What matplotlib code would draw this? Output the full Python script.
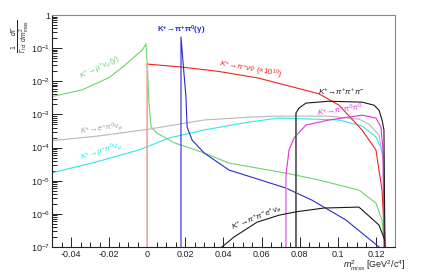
import matplotlib
matplotlib.use("Agg")
import matplotlib.pyplot as plt
from matplotlib.ticker import MultipleLocator, LogLocator, NullFormatter

plt.rcParams['font.family'] = ['Liberation Sans', 'DejaVu Sans']
plt.rcParams['mathtext.fontset'] = 'custom'
plt.rcParams['mathtext.rm'] = 'Liberation Sans'
plt.rcParams['mathtext.it'] = 'Liberation Sans:italic'
plt.rcParams['mathtext.bf'] = 'Liberation Sans:bold'

# ---- data (m2_miss in GeV^2/c^4, dGamma/dm2 normalised) ----
mu_nu_x = [-0.0505, -0.0342, -0.020, -0.0122, -0.0069, -0.0027, -0.0007, 0.0, 0.0009, 0.0020,
           0.0051, 0.0140, 0.0298, 0.0429, 0.0728, 0.0901, 0.1111, 0.1200, 0.1232, 0.1247]
mu_nu_y = [3.4e-3, 5.5e-3, 1.3e-2, 2.9e-2, 5.4e-2, 8.7e-2, 0.133, 3.5e-2, 2.2e-3, 4.2e-4,
           2.75e-4, 1.4e-4, 6.9e-5, 3.4e-5, 1.7e-5, 1.05e-5, 5.2e-6, 2.1e-6, 6.5e-7, 1e-7]

pinunu_x = [0.0, 0.0, 0.0177, 0.0371, 0.0581, 0.0744, 0.0901, 0.1006, 0.1127, 0.1200, 0.1232, 0.1247]
pinunu_y = [1e-7, 3.3e-2, 2.7e-2, 2.0e-2, 1.26e-2, 7.2e-3, 4.2e-3, 1.9e-3, 3.4e-4, 8.5e-5, 5.2e-6, 1e-7]

pipi0_x = [0.0177, 0.0177, 0.0188, 0.0203, 0.0209, 0.0235, 0.0298, 0.0429, 0.0728, 0.0864, 0.1043, 0.1216]
pipi0_y = [1e-7, 0.217, 3.6e-2, 3.4e-3, 4.2e-4, 1.7e-4, 6.9e-5, 2.1e-5, 6.0e-6, 2.6e-6, 6.5e-7, 1e-7]

epi0nu_x = [-0.0505, -0.0253, 0.0009, 0.0298, 0.0534, 0.0691, 0.0954, 0.1111, 0.1163, 0.1216, 0.1237, 0.1247]
epi0nu_y = [1.6e-4, 2.25e-4, 3.6e-4, 6.8e-4, 8.3e-4, 8.9e-4, 8.9e-4, 7.2e-4, 5.1e-4, 2.4e-4, 4.2e-5, 1e-7]

mupi0nu_x = [-0.0505, -0.0253, -0.0043, 0.0114, 0.0298, 0.0534, 0.0691, 0.1006, 0.1127, 0.1200, 0.1232, 0.1242, 0.1247]
mupi0nu_y = [1.7e-5, 3.9e-5, 8.5e-5, 1.95e-4, 3.4e-4, 5.9e-4, 7.8e-4, 6.8e-4, 4.5e-4, 2.1e-4, 8.5e-5, 4.8e-5, 1e-7]

pipi0pi0_x = [0.0728, 0.0728, 0.0744, 0.0770, 0.0833, 0.0954, 0.1127, 0.1200, 0.1226, 0.1237, 0.1242]
pipi0pi0_y = [1e-7, 1.5e-5, 8.5e-5, 1.95e-4, 4.8e-4, 6.8e-4, 9.5e-4, 7.8e-4, 4.2e-4, 8.5e-5, 1e-7]

pipipi_x = [0.0780, 0.0780, 0.0796, 0.0833, 0.0954, 0.1127, 0.1190, 0.1216, 0.1232, 0.1242, 0.1247]
pipipi_y = [1e-7, 1.1e-3, 1.55e-3, 2.2e-3, 2.5e-3, 2.35e-3, 1.9e-3, 1.35e-3, 6.8e-4, 3.4e-4, 1e-7]

ke4_x = [0.0392, 0.0455, 0.0576, 0.0691, 0.0780, 0.0927, 0.1111, 0.1216, 0.1247]
ke4_y = [1e-7, 2.0e-7, 5.6e-7, 9.1e-7, 1.15e-6, 1.5e-6, 1.6e-6, 4.6e-7, 1.6e-7]

x_ticks = [-0.04, -0.02, 0.0, 0.02, 0.04, 0.06, 0.08, 0.1, 0.12]
x_tick_labels = ['-0.04', '-0.02', '0', '0.02', '0.04', '0.06', '0.08', '0.1', '0.12']
y_ticks = [1e-7, 1e-6, 1e-5, 1e-4, 1e-3, 1e-2, 1e-1, 1]
y_tick_labels = [r'$10^{-7}$', r'$10^{-6}$', r'$10^{-5}$', r'$10^{-4}$', r'$10^{-3}$',
                 r'$10^{-2}$', r'$10^{-1}$', '1']

c_green = '#6cd46c'
c_red = '#e8281e'
c_blue = '#2a2ad8'
c_gray = '#b8b8b8'
c_cyan = '#30e8e8'
c_mag = '#e030e0'
c_black = '#1a1a1a'

fig = plt.figure(figsize=(4.24, 2.77), dpi=100)
ax = fig.add_axes([0.1226, 0.1083, 0.809, 0.8375])
lw = 0.8
ax.plot(mu_nu_x, mu_nu_y, color=c_green, lw=lw)
ax.plot(epi0nu_x, epi0nu_y, color=c_gray, lw=lw)
ax.plot(mupi0nu_x, mupi0nu_y, color=c_cyan, lw=lw)
ax.plot(pinunu_x, pinunu_y, color=c_red, lw=lw)
ax.plot(pinunu_x[:2], pinunu_y[:2], color='#f4a6a6', lw=lw)
ax.plot(pipi0_x, pipi0_y, color=c_blue, lw=lw)
ax.plot(pipi0pi0_x, pipi0pi0_y, color=c_mag, lw=lw)
ax.plot(pipi0pi0_x[:2], pipi0pi0_y[:2], color='#f2a0f2', lw=lw)
ax.plot(pipipi_x, pipipi_y, color=c_black, lw=lw)
ax.plot(pipipi_x[:2], pipipi_y[:2], color='#707070', lw=lw)
ax.plot(ke4_x, ke4_y, color=c_black, lw=lw)

ax.set_yscale('log')
ax.set_xlim(-0.05, 0.13)
ax.set_ylim(1e-7, 1)

ax.set_xticks(x_ticks)
ax.set_xticklabels(x_tick_labels)
ax.xaxis.set_minor_locator(MultipleLocator(0.005))
ax.set_yticks(y_ticks)
ax.set_yticklabels(y_tick_labels)
ax.yaxis.set_minor_locator(LogLocator(base=10, subs=range(2, 10), numticks=20))
ax.yaxis.set_minor_formatter(NullFormatter())

ax.tick_params(axis='both', which='major', direction='in', length=7, width=0.7,
               labelsize=6.5, colors='#222222', top=False, right=False)
ax.tick_params(axis='both', which='minor', direction='in', length=3.5, width=0.6,
               top=False, right=False)
ax.tick_params(axis='x', pad=2)
ax.tick_params(axis='y', pad=1.5)
for s in ['left', 'bottom']:
    ax.spines[s].set_color('#222222')
    ax.spines[s].set_linewidth(0.8)
for s in ['top', 'right']:
    ax.spines[s].set_color('#888888')
    ax.spines[s].set_linewidth(0.8)

fs = 5.8
ax.text(-0.0248, 0.025, r'$K^{+}\!\rightarrow\!\mu^{+}\nu_{\mu}(\gamma)$', color=c_green,
        fontsize=fs, rotation=26, ha='center', va='center')
ax.text(0.0177, 0.35, r'$\mathbf{K^{+}\!\rightarrow\!\pi^{+}\pi^{0}(\gamma)}$', color=c_blue,
        fontsize=fs, ha='center', va='center')
ax.text(0.0544, 0.022, r'$K^{+}\!\rightarrow\!\pi^{+}\nu\bar{\nu}\ (\times10^{10})$', color=c_red,
        fontsize=fs, rotation=-10, ha='center', va='center')
ax.text(0.1017, 4.8e-3, r'$K^{+}\!\rightarrow\!\pi^{+}\pi^{+}\pi^{-}$', color=c_black,
        fontsize=fs, ha='center', va='center')
ax.text(0.1011, 1.35e-3, r'$K^{+}\!\rightarrow\!\pi^{+}\pi^{0}\pi^{0}$', color=c_mag,
        fontsize=fs, rotation=8, ha='center', va='center')
ax.text(-0.0237, 3.6e-4, r'$K^{+}\!\rightarrow\!e^{+}\pi^{0}\nu_{e}$', color='#a0a0a0',
        fontsize=fs, rotation=8, ha='center', va='center')
ax.text(-0.0237, 7.4e-5, r'$K^{+}\!\rightarrow\!\mu^{+}\pi^{0}\nu_{\mu}$', color=c_cyan,
        fontsize=fs, rotation=18, ha='center', va='center')
ax.text(0.0571, 7.5e-7, r'$K^{+}\!\rightarrow\!\pi^{+}\pi^{-}e^{+}\nu_{e}$', color=c_black,
        fontsize=fs, rotation=22, ha='center', va='center')

fig.text(20 / 424, 1 - 36 / 277, r'$\frac{1}{\Gamma_{tot}}\,\frac{d\Gamma}{dm^{2}_{miss}}$',
         rotation=90, fontsize=7, ha='center', va='center', color='#222222')
fig.text(374 / 424, 1 - 266 / 277, r'$m^{2}_{miss}$ [GeV$^{2}$/c$^{4}$]',
         fontsize=6.5, ha='center', va='center', color='#222222')

fig.savefig('out.png', dpi=100)
